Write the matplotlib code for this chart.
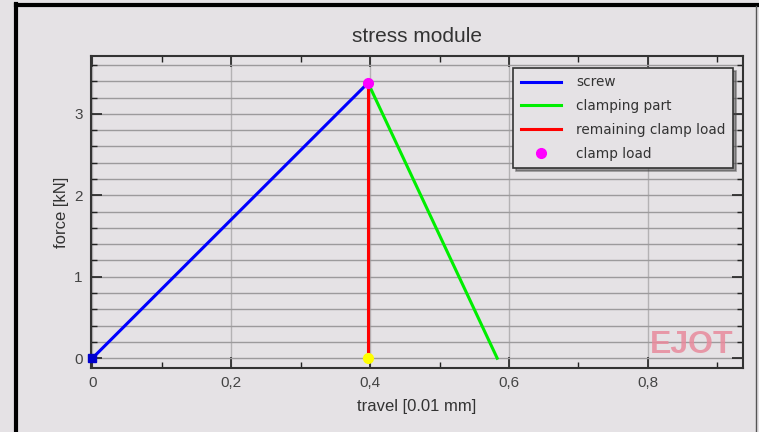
import matplotlib
matplotlib.use("Agg")
import matplotlib.pyplot as plt
from matplotlib.lines import Line2D
from matplotlib.ticker import MultipleLocator, FuncFormatter

# values
screw_x = [0.0, 0.397]
screw_y = [0.0, 3.38]
clamp_part_x = [0.397, 0.583]
clamp_part_y = [3.38, 0.0]
remaining_x = [0.397, 0.397]
remaining_y = [0.0, 3.38]
clamp_load_x = [0.397]
clamp_load_y = [3.38]
x_ticks = [0, 0.2, 0.4, 0.6, 0.8]
y_ticks = [0, 1, 2, 3]

bg = "#e5e2e5"
plt.rcParams["font.family"] = ["Liberation Sans", "DejaVu Sans"]

fig = plt.figure(figsize=(7.59, 4.32), dpi=100, facecolor=bg)
ax = fig.add_axes([91 / 759, 1 - 368 / 432, 652 / 759, 312 / 432])
ax.set_facecolor(bg)

ax.set_xlim(-0.002, 0.937)
ax.set_ylim(-0.12, 3.71)

# grid: horizontal every 0.2 kN, vertical only at major x
ax.xaxis.set_major_locator(MultipleLocator(0.2))
ax.xaxis.set_minor_locator(MultipleLocator(0.1))
ax.yaxis.set_major_locator(MultipleLocator(1))
ax.yaxis.set_minor_locator(MultipleLocator(0.2))
ax.grid(True, axis="x", which="major", color="#b4b2b4", lw=1.0)
ax.grid(True, axis="y", which="both", color="#9c9a9c", lw=1.0)
ax.set_axisbelow(True)

ax.set_xticks(x_ticks)
ax.set_yticks(y_ticks)
ax.xaxis.set_major_formatter(FuncFormatter(lambda v, p: "0" if v == 0 else f"{v:.1f}".replace(".", ",")))
ax.tick_params(which="major", direction="in", length=8, width=1.2, top=True, right=True,
               labelsize=11, colors="#222222", labelcolor="#444444", pad=6)
ax.tick_params(which="minor", direction="in", length=4, width=1.0, top=True, right=True, colors="#222222")
for s in ax.spines.values():
    s.set_color("#333333")
    s.set_linewidth(1.5)

ax.plot(screw_x, screw_y, color="#0000ff", lw=2.2, label="screw", zorder=3)
ax.plot(clamp_part_x, clamp_part_y, color="#00ee00", lw=2.2, label="clamping part", zorder=3)
ax.plot(remaining_x, remaining_y, color="#ff0000", lw=2.2, label="remaining clamp load", zorder=3)
ax.plot(clamp_load_x, clamp_load_y, "o", color="#ff00ff", ms=7, label="clamp load", zorder=4)
ax.plot(screw_x[:1], screw_y[:1], "s", color="#0000cc", ms=6, zorder=4, clip_on=False)
ax.plot(remaining_x[:1], remaining_y[:1], "o", color="#ffff00", ms=7, zorder=4, clip_on=False)

leg = ax.legend(loc="upper right", bbox_to_anchor=(0.985, 0.962), borderaxespad=0,
                prop={"family": "DejaVu Sans", "size": 9.8}, frameon=True, fancybox=False, shadow=True,
                edgecolor="#333333", facecolor=bg, framealpha=1,
                handlelength=3.0, handletextpad=1.1, labelspacing=0.72, borderpad=0.55)
leg.get_frame().set_linewidth(1.2)
for t in leg.get_texts():
    t.set_color("#333333")

ax.text(0.985, 0.025, "EJOT", transform=ax.transAxes, ha="right", va="bottom",
        fontsize=23, fontweight="bold", color="#e88a9c", alpha=0.85, zorder=2)

ax.set_title("stress module", fontsize=15, color="#333333", pad=10)
ax.set_xlabel("travel [0.01 mm]", fontsize=12, color="#333333", labelpad=6)
ax.set_ylabel("force [kN]", fontsize=12, color="#333333", labelpad=4)

# outer frame of the screenshot
fig.add_artist(Line2D([16 / 759, 16 / 759], [0, 1 - 4 / 432], color="black", lw=3))
fig.add_artist(Line2D([16 / 759, 1], [1 - 5 / 432, 1 - 5 / 432], color="black", lw=3))
fig.add_artist(Line2D([756 / 759, 756 / 759], [0, 1 - 6 / 432], color="#555555", lw=1))

fig.savefig("out.png", dpi=100, facecolor=bg)
